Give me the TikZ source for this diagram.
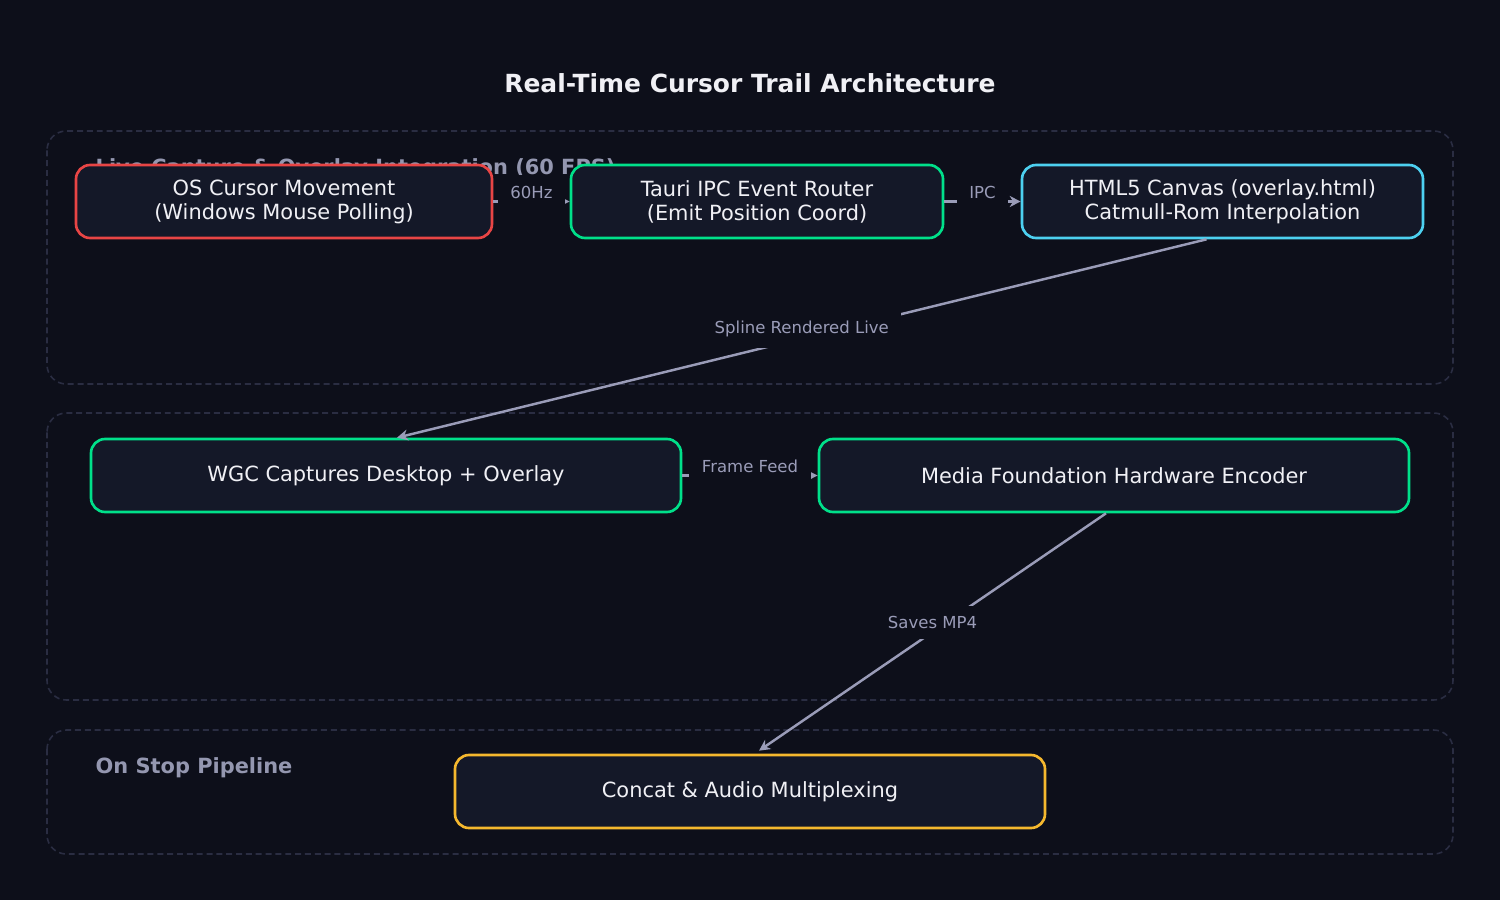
\documentclass[tikz,border=0pt]{standalone}
\usepackage{fontspec}
\setmainfont{DejaVu Sans}
\usetikzlibrary{positioning,arrows.meta,backgrounds}
\definecolor{pagebg}{HTML}{0D0F1A}
\definecolor{boxfill}{HTML}{141828}
\definecolor{grpline}{HTML}{2A2D42}
\definecolor{grptext}{HTML}{9497B0}
\definecolor{edgecol}{HTML}{9A9CB8}
\definecolor{txt}{HTML}{F0F0F5}
\definecolor{redline}{HTML}{E84545}
\definecolor{greenline}{HTML}{00E08A}
\definecolor{cyanline}{HTML}{4DD0F0}
\definecolor{yellowline}{HTML}{F5B82E}

\begin{document}
\begin{tikzpicture}[x=0.1mm, y=-0.1mm,
  grp/.style={draw=grpline, dash pattern=on 1.7pt off 1.1pt, line width=0.45pt,
              rounded corners=5.5pt},
  grplab/.style={anchor=west, inner sep=0, text=grptext,
                 font=\fontsize{5.95}{7.1}\selectfont\bfseries},
  box/.style={draw, line width=0.75pt, rounded corners=4pt, fill=boxfill, text=txt,
              align=center, inner sep=0, minimum height=7.3mm,
              font=\fontsize{5.95}{6.8}\selectfont},
  edge/.style={draw=edgecol, line width=0.7pt,
               -{Stealth[length=1.1mm, width=1.1mm, inset=0.35mm]}},
  lbl/.style={fill=pagebg, text=edgecol, inner xsep=3.6pt, inner ysep=3pt,
              yshift=2.7pt, font=\fontsize{4.7}{5.6}\selectfont}]
\useasboundingbox[fill=pagebg] (0,0) rectangle (1500,900);
\node[text=txt, font=\fontsize{7.1}{8.5}\selectfont\bfseries] (title) at (750,83)
  {Real-Time Cursor Trail Architecture};
% groups
\draw[grp] (47,131) rectangle (1453,384);
\draw[grp] (47,413) rectangle (1453,700);
\draw[grp] (47,730) rectangle (1453,854);
\node[grplab] (livelab) at (95,169) {Live Capture \& Overlay Integration (60 FPS)};
\node[grplab] (stoplab) at (95,768) {On Stop Pipeline};
% nodes
\node[box, draw=redline, minimum width=41.6mm] (os) at (284,201.5)
  {OS Cursor Movement\\(Windows Mouse Polling)};
\node[box, draw=greenline, minimum width=37.2mm] (tauri) at (757,201.5)
  {Tauri IPC Event Router\\(Emit Position Coord)};
\node[box, draw=cyanline, minimum width=40.1mm] (canvas) at (1222.5,201.5)
  {HTML5 Canvas (overlay.html)\\Catmull-Rom Interpolation};
\node[box, draw=greenline, minimum width=59mm] (wgc) at (386,475.5)
  {WGC Captures Desktop + Overlay};
\node[box, draw=greenline, minimum width=59mm] (mf) at (1114,475.5)
  {Media Foundation Hardware Encoder};
\node[box, draw=yellowline, minimum width=59mm] (concat) at (750,791.5)
  {Concat \& Audio Multiplexing};
% connectors
\draw[edge] (os) -- node[lbl] {60Hz} (tauri);
\draw[edge] (tauri) -- node[lbl] {IPC} (canvas);
\draw[edge] ([xshift=-1.6mm]canvas.south) -- node[lbl] {Spline Rendered Live}
  ([xshift=1.1mm]wgc.north);
\draw[edge] (wgc) -- node[lbl] {Frame Feed} (mf);
\draw[edge] ([xshift=-0.8mm]mf.south) -- node[lbl] {Saves MP4}
  ([xshift=0.9mm, yshift=0.3mm]concat.north);
\end{tikzpicture}
\end{document}
